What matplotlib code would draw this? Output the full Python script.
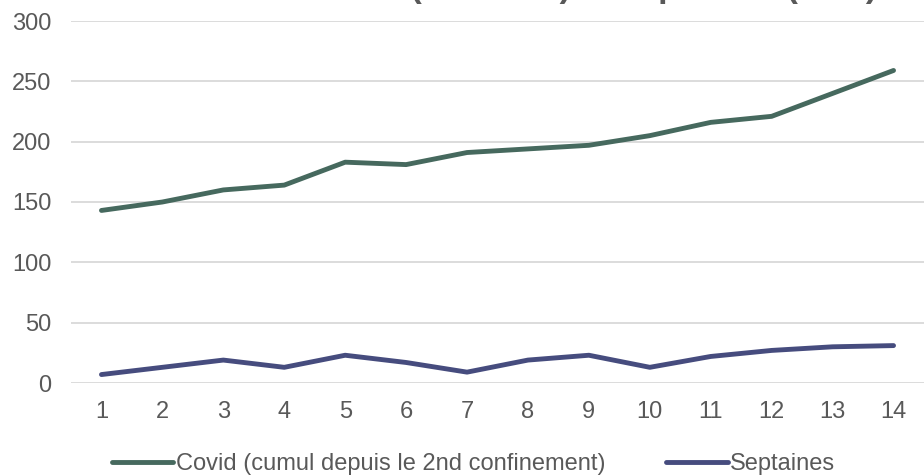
import matplotlib.pyplot as plt
import numpy as np

plt.rcParams['font.family'] = ['Liberation Sans', 'DejaVu Sans']

weeks = list(range(1, 15))
covid = [143, 150, 160, 164, 183, 181, 191, 194, 197, 205, 216, 221, 240, 259]
septaines = [7, 13, 19, 13, 23, 17, 9, 19, 23, 13, 22, 27, 30, 31]
labels = ['Covid (cumul depuis le 2nd confinement)', 'Septaines']
title = 'Nombre de cas Covid (cumulés) et septaines (sem)'

green = '#46695E'
blue = '#464C7E'
grey = '#595959'

fig = plt.figure(figsize=(9.24, 4.76), dpi=100)
ax = fig.add_axes([71 / 924, 93 / 476, 853 / 924, 362 / 476])

ax.plot(weeks, covid, color=green, lw=3.5, solid_capstyle='round', label=labels[0])
ax.plot(weeks, septaines, color=blue, lw=3.5, solid_capstyle='round', label=labels[1])

ax.set_xlim(0.5, 14.5)
ax.set_ylim(0, 300)
ax.set_xticks(weeks)
ax.set_yticks(np.arange(0, 301, 50))
ax.grid(axis='y', color='#d9d9d9', lw=1.3)
ax.set_axisbelow(True)
for s in ax.spines.values():
    s.set_visible(False)
ax.tick_params(length=0, labelsize=17, colors=grey)
ax.tick_params(axis='y', pad=14)
ax.tick_params(axis='x', pad=13)

# title is cut off at the top of the picture (only descenders visible)
fig.text(0.503, 1 + 3 / 476, title, ha='center', va='baseline',
         fontsize=24.5, fontweight='bold', color=grey)

fig.legend(loc='center', bbox_to_anchor=(0.5125, 12 / 476), ncol=2, frameon=False,
           fontsize=17, handlelength=2.6, handletextpad=0.1, columnspacing=2.6,
           labelcolor=grey)

fig.savefig('out.png', dpi=100)
